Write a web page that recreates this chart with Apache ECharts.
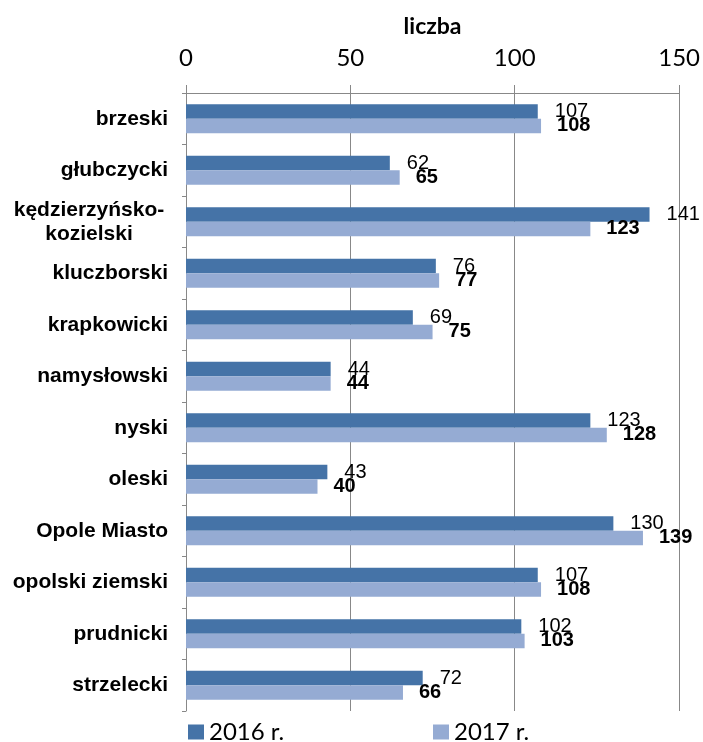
<!DOCTYPE html>
<html>
<head>
<meta charset="utf-8">
<script src="https://cdn.jsdelivr.net/npm/echarts@6/dist/echarts.min.js"></script>
<style>html,body{margin:0;padding:0;background:#fff}#c{width:703px;height:742px}</style>
</head>
<body>
<div id="c"></div>
<script>
var categories = ['brzeski','głubczycki','kędzierzyńsko-kozielski','kluczborski','krapkowicki','namysłowski','nyski','oleski','Opole Miasto','opolski ziemski','prudnicki','strzelecki'];
var values2016 = [107,62,141,76,69,44,123,43,130,107,102,72];
var values2017 = [108,65,123,77,75,44,128,40,139,108,103,66];
var xTicks = {min:0, max:150, interval:50};

var gray = '#888888';
var chart = echarts.init(document.getElementById('c'));
chart.setOption({
  animation:false,
  grid:{left:186,right:23,top:93,bottom:31},
  legend:[
    {data:['2016 r.'],left:183,top:715,itemWidth:16,itemHeight:15,icon:'rect',
     textStyle:{fontFamily:'Lato',fontSize:24,color:'#000'}},
    {data:['2017 r.'],left:428,top:715,itemWidth:16,itemHeight:15,icon:'rect',
     textStyle:{fontFamily:'Lato',fontSize:24,color:'#000'}}
  ],
  xAxis:{
    type:'value',position:'top',min:xTicks.min,max:xTicks.max,interval:xTicks.interval,
    name:'liczba',nameLocation:'middle',nameGap:55,
    nameTextStyle:{fontFamily:'Lato',fontWeight:'bold',fontSize:23,color:'#000'},
    axisLine:{show:true,lineStyle:{color:gray,width:1}},
    axisTick:{show:true,length:8,lineStyle:{color:gray}},
    axisLabel:{margin:23,fontFamily:'Lato',fontSize:24,color:'#000'},
    splitLine:{show:true,lineStyle:{color:gray,width:1}}
  },
  yAxis:{
    type:'category',inverse:true,data:categories,
    axisLine:{show:true,lineStyle:{color:gray,width:1}},
    axisTick:{show:true,length:4,lineStyle:{color:gray}},
    axisLabel:{margin:18,fontFamily:'Arial, Liberation Sans',fontWeight:'bold',fontSize:21,color:'#000',
      formatter:function(v){
        if(v==='kędzierzyńsko-kozielski') return '{k|kędzierzyńsko-}\n{k|kozielski}';
        return v;
      },
      rich:{k:{width:158,align:'center',fontFamily:'Arial, Liberation Sans',fontWeight:'bold',fontSize:21,color:'#000',lineHeight:24}}
    }
  },
  series:[
    {name:'2016 r.',type:'bar',data:values2016,barGap:'0%',barCategoryGap:'44%',
     itemStyle:{color:'#4573A7'},
     label:{show:true,position:'right',distance:17,fontFamily:'Arial, Liberation Sans',fontSize:20,color:'#000'}},
    {name:'2017 r.',type:'bar',data:values2017,barGap:'0%',barCategoryGap:'44%',
     itemStyle:{color:'#95ABD3'},
     label:{show:true,position:'right',distance:16,fontFamily:'Arial, Liberation Sans',fontWeight:'bold',fontSize:20,color:'#000'}}
  ]
});
</script>
</body>
</html>
